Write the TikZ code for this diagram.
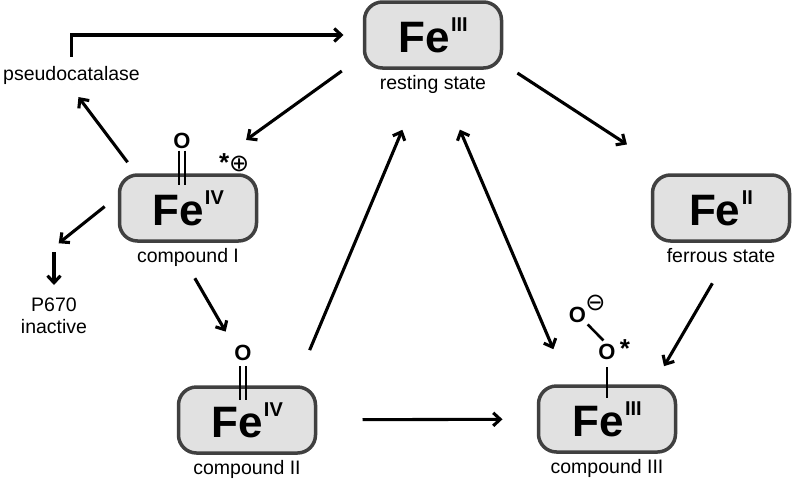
\documentclass[tikz,border=0pt]{standalone}
\usepackage{fontspec}
\setmainfont{Liberation Sans}
\newfontfamily\symfont{DejaVu Sans}
\usetikzlibrary{arrows.meta,positioning}
\definecolor{boxfill}{HTML}{E1E1E1}
\definecolor{boxline}{HTML}{404040}
\newcommand{\labfont}{\fontsize{19.5}{22}\selectfont}
\newcommand{\oxyfont}{\fontsize{22}{22}\selectfont\bfseries}
\newcommand{\FeOx}[1]{\bfseries{\fontsize{44}{44}\selectfont Fe}\hspace{1.5pt}\raisebox{21pt}{\fontsize{20}{20}\selectfont #1}}

\begin{document}
\begin{tikzpicture}[>={Straight Barb[length=7pt,width=13pt]}, x=1pt, y=-1pt,
	statebox/.style={draw=boxline, fill=boxfill, line width=3.5pt, rounded corners=18pt, minimum width=137pt, minimum height=66pt, inner sep=0pt, outer sep=0pt},
	lab/.style={font=\labfont, inner sep=0pt},
	ligand/.style={font=\oxyfont, inner sep=0pt},
	charge/.style={font=\fontsize{24}{24}\selectfont, inner sep=0pt},
	react/.style={->, line width=3.1pt},
	bond/.style={line width=2.6pt}]
		\useasboundingbox (0,0) rectangle (792,480);
		%\draw [help lines] (0,0) grid (792,480);
		\node [statebox] (rest) at (433,35) {\FeOx{III}};
		\node [statebox] (cpdI) at (188,208) {\FeOx{IV}};
		\node [statebox] (cpdII) at (247,420) {\FeOx{IV}};
		\node [statebox] (cpdIII) at (607,419) {\FeOx{III}};
		\node [statebox] (ferrous) at (721,208) {\FeOx{II}};
		\node [lab, below=7pt of rest] (restlab) {resting state};
		\node [lab, below=7pt of cpdI] (cpdIlab) {compound I};
		\node [lab, below=7pt of cpdII] (cpdIIlab) {compound II};
		\node [lab, below=7pt of cpdIII] (cpdIIIlab) {compound III};
		\node [lab, below=7pt of ferrous] (ferrouslab) {ferrous state};
		\node [lab] (pseudo) at (71.5,75) {pseudocatalase};
		\node [lab, align=center, anchor=north] (p670) at (54,298) {P670\\inactive};
		% ligands
		\node [ligand, above=26pt of cpdI.north, xshift=-6pt] (oxoI) {O};
		\node [charge, above left=3pt and 7pt of cpdI.north east] (radI) {{\fontsize{26}{26}\selectfont\bfseries *}{\symfont ⊕}};
		\node [ligand, above=26pt of cpdII.north, xshift=-4pt] (oxoII) {O};
		\node [ligand, above=26pt of cpdIII.north] (supoA) {O};
		\node [ligand, above left=21pt and 12pt of supoA] (supoB) {O};
		\node [charge, right=4pt of supoA, yshift=3pt] (starIII) {\fontsize{26}{26}\selectfont\bfseries *};
		\node [charge, right=-1pt of supoB, yshift=12.5pt] (minusIII) {\symfont ⊖};
		\draw [bond, shorten <=1.5pt, shorten >=-10pt] ([xshift=-3pt]oxoI.south) -- ([xshift=-3pt]oxoI.south |- cpdI.north);
		\draw [bond, shorten <=1.5pt, shorten >=-10pt] ([xshift=3pt]oxoI.south) -- ([xshift=3pt]oxoI.south |- cpdI.north);
		\draw [bond, shorten <=5pt, shorten >=-13pt] ([xshift=-3pt]oxoII.south) -- ([xshift=-3pt]oxoII.south |- cpdII.north);
		\draw [bond, shorten <=5pt, shorten >=-13pt] ([xshift=3pt]oxoII.south) -- ([xshift=3pt]oxoII.south |- cpdII.north);
		\draw [bond, shorten <=7pt, shorten >=-12pt] (supoA) -- (supoA |- cpdIII.north);
		\draw [bond, shorten <=2pt, shorten >=5pt] (supoB.south east) -- (supoA.north);
		% reactions
		\draw [react, shorten <=9pt, shorten >=21pt] (pseudo) |- (rest);
		\draw [react, shorten <=28pt, shorten >=60pt] (rest.196.5) -- (cpdI.74.5);
		\draw [react, shorten <=19pt, shorten >=56pt] (rest.338.6) -- (ferrous.145.7);
		\draw [react, shorten <=16pt, shorten >=16pt] (cpdI.147.9) -- (pseudo.254.2);
		\coordinate (fork) at (54,247);
		\draw [react, shorten <=19pt, shorten >=6pt] (cpdI.169.7) -- (fork);
		\draw [react, shorten <=5pt, shorten >=13pt] (fork) -- (p670);
		\draw [react, shorten <=43pt, shorten >=64pt] (cpdI.246.5) -- (cpdII.72.6);
		\draw [react, shorten <=40pt, shorten >=67pt] (cpdII.35.2) -- (rest.262.9);
		\draw [react, <->, shorten <=67pt, shorten >=40pt] (rest.271.4) -- (cpdIII.139.2);
		\draw [react, shorten <=47pt, shorten >=36pt] (cpdII) -- (cpdIII);
		\draw [react, shorten <=49pt, shorten >=23pt] (ferrous.296.2) -- (cpdIII.36.5);
	\end{tikzpicture}
\end{document}
